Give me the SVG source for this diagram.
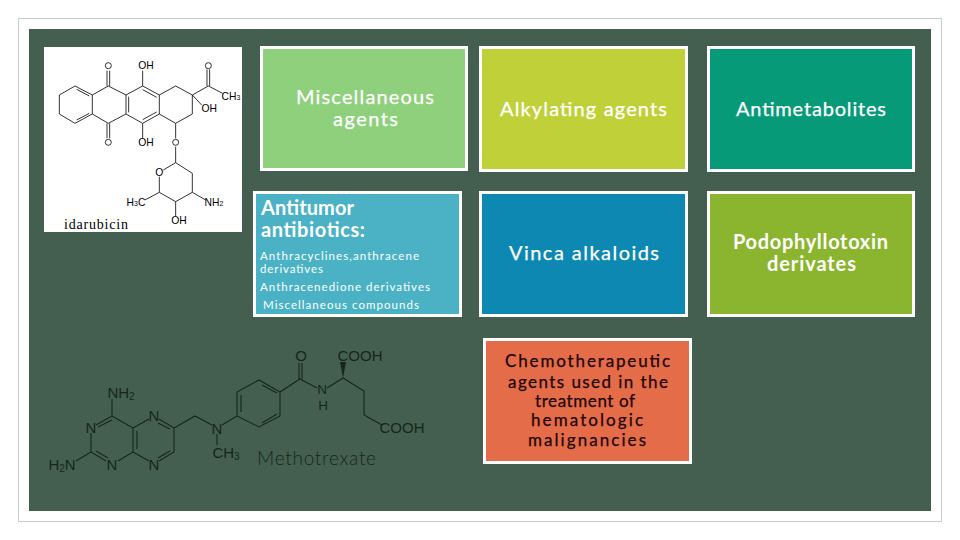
<svg xmlns="http://www.w3.org/2000/svg" width="960" height="540" viewBox="0 0 960 540">
<style>
.box{stroke:#fff;stroke-width:3}
.t{font-family:"Lato","Liberation Sans",sans-serif;text-anchor:middle;fill:#fff;font-size:20px;font-weight:400;stroke:#fff;stroke-width:.25}
.b{font-weight:700;stroke:none}
.l{text-anchor:start}
.s{font-family:"Lato","Liberation Sans",sans-serif;fill:#fff;font-size:11.500px;font-weight:400}
.c{fill:#1c0505;stroke:#1c0505;font-size:17px}
.m{fill:none;stroke:#000;stroke-width:2.4}
.ml{font-family:"Liberation Sans",sans-serif;font-size:31px;fill:#000;text-anchor:middle}
.d{fill:none;stroke:#16261d;stroke-width:1.1}
.dl{font-family:"Liberation Sans",sans-serif;font-size:15px;fill:#16261d;text-anchor:middle}
.dn{font-size:13.500px}
</style>
<rect width="960" height="540" fill="#fff"/>
<rect x="18.500" y="18.500" width="923" height="503" fill="none" stroke="#c8cdca"/>
<rect x="29" y="29" width="902" height="482" fill="#445f4f"/>
<g id="idarubicin">
<rect x="44" y="47" width="198" height="185" fill="#fff"/>
<g transform="translate(30 40) scale(.3333)">
<path class="m" d="M88 165L135 138L187 165V222L135 250L88 222ZM187 165L235 138L288 165V222L235 250L187 222M288 165L338 138L388 165V222L338 250L288 222M388 165L437 138L487 165V222L437 250L388 222M140 148L178 168M140 240L178 220M296 170V217M338 149L380 172M338 239L380 216M231 138V92M239 138V92M231 250V295M239 250V295M338 138V92M338 250V295M437 250V295M437 320V368L487 400V457L437 485L388 457V410M437 368L400 390M388 457L345 480M487 457L527 480M437 485V528M487 165L535 138M531 138V88M539 138V88M535 138L578 160M487 165L515 195"/>
<circle class="m" cx="235" cy="77" r="9"/><circle class="m" cx="235" cy="307" r="9"/><circle class="m" cx="535" cy="77" r="9"/><circle class="m" cx="437" cy="307" r="9"/>
<text class="ml" x="348" y="88">OH</text><text class="ml" x="348" y="318">OH</text><text class="ml" x="603" y="180">CH<tspan font-size="21">3</tspan></text><text class="ml" x="538" y="216">OH</text><text class="ml" x="388" y="408">O</text><text class="ml" x="318" y="498">H<tspan font-size="21">3</tspan>C</text><text class="ml" x="552" y="498">NH<tspan font-size="21">2</tspan></text><text class="ml" x="447" y="552">OH</text>
<text x="198" y="568" font-family="Liberation Serif,serif" font-size="42" textLength="192" text-anchor="middle">idarubicin</text>
</g>
</g>
<g id="methotrexate">
<path class="d" d="M112 399V416L96 425M91 433V447L91 452L106 461M118 461L133 452V428L112 416M133 428L149 419M159 419L174 428V452L159 461M149 461L133 452M98 427L112 420M96 451L108 458M137 431V449M158 423L170 429M158 458L170 451M174 428L195 416L212 425M222 425L237 416V392L259 380L280 392V416L259 427L237 416M241 412V395M262 385L277 393M262 423L277 414M280 392L300 379L317 388M327 388L343 378L364 391V415L382 425M299 379V363M302 379V363M217 434V445M76 461L91 452"/>
<path d="M343 378L340 362H346Z" fill="#16261d"/>
<text class="dl" x="121" y="398">NH<tspan font-size="10" dy="2">2</tspan></text>
<text class="dl" x="91" y="433">N</text><text class="dl" x="112" y="470">N</text><text class="dl" x="154" y="421">N</text><text class="dl" x="154" y="470">N</text><text class="dl" x="217" y="434">N</text>
<text class="dl" x="62" y="470">H<tspan font-size="10" dy="2">2</tspan><tspan dy="-2">N</tspan></text>
<text class="dl" x="226" y="458">CH<tspan font-size="10" dy="2">3</tspan></text>
<text class="dl" x="301" y="361">O</text><text class="dl dn" x="322" y="394">N</text><text class="dl dn" x="323" y="410">H</text>
<text class="dl" x="360" y="361">COOH</text><text class="dl" x="402" y="433">COOH</text>
<text x="316.500" y="465" font-family="Lato,Liberation Sans,sans-serif" font-weight="300" font-size="19" fill="#16261d" textLength="119" text-anchor="middle">Methotrexate</text>
</g>
<g id="misc"><rect class="box" x="261.500" y="47.500" width="205" height="122" fill="#8fd07c"/><text class="t" x="365" y="104" textLength="138">Miscellaneous</text><text class="t" x="365.500" y="126" textLength="65">agents</text></g>
<g id="alkylating"><rect class="box" x="480.500" y="47.500" width="206" height="123" fill="#c0d038"/><text class="t" x="583.500" y="116" textLength="167">Alkylating agents</text></g>
<g id="antimetabolites"><rect class="box" x="708.500" y="47.500" width="205" height="123" fill="#079a78"/><text class="t" x="811" y="116" textLength="150">Antimetabolites</text></g>
<g id="antitumor"><rect class="box" x="254.500" y="192.500" width="206" height="123" fill="#4bb2c5"/>
<text class="t b l" x="261" y="215" textLength="93">Antitumor</text><text class="t b l" x="261" y="237" textLength="104">antibiotics:</text>
<text class="s" x="260" y="260" textLength="159">Anthracyclines,anthracene</text><text class="s" x="260" y="273" textLength="63">derivatives</text><text class="s" x="260" y="291" textLength="170">Anthracenedione derivatives</text><text class="s" x="263" y="309" textLength="156">Miscellaneous compounds</text></g>
<g id="vinca"><rect class="box" x="480.500" y="192.500" width="206" height="123" fill="#0c88b2"/><text class="t" x="584" y="260" textLength="150">Vinca alkaloids</text></g>
<g id="podophyllotoxin"><rect class="box" x="708.500" y="192.500" width="205" height="123" fill="#8bb52e"/><text class="t b" x="810.500" y="249" textLength="155">Podophyllotoxin</text><text class="t b" x="811.500" y="271" textLength="89">derivates</text></g>
<g id="chemo"><rect class="box" x="484.500" y="339.500" width="206" height="123" fill="#e46c48"/>
<text class="t c" x="587.500" y="367" textLength="165">Chemotherapeutic</text><text class="t c" x="588" y="388" textLength="160">agents used in the</text><text class="t c" x="585" y="407" textLength="100">treatment of</text><text class="t c" x="587" y="426" textLength="112">hematologic</text><text class="t c" x="587" y="446" textLength="118">malignancies</text></g>
<g id="connectors"></g>
</svg>
